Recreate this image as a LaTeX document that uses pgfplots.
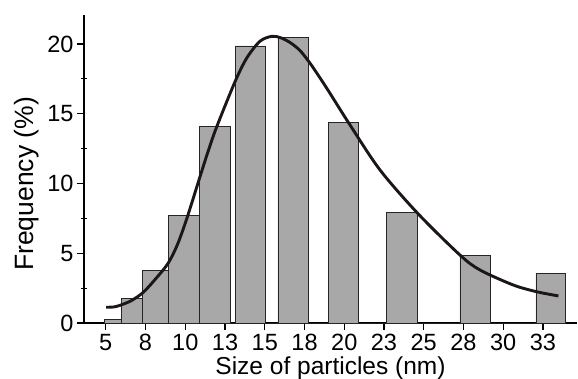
\documentclass[border=0pt]{standalone}
\usepackage{fontspec}
\setmainfont{Liberation Sans}
\usepackage{pgfplots}
\pgfplotsset{compat=1.18}
\definecolor{barfill}{RGB}{168,168,168}
\definecolor{baredge}{RGB}{40,36,36}
\definecolor{curvecol}{RGB}{28,22,22}
\begin{document}
\begin{tikzpicture}
\begin{axis}[
  at={(84bp,56bp)}, anchor=south west,
  scale only axis, width=493bp, height=308bp,
  xmin=3.63, xmax=34.64, ymin=0, ymax=22.08,
  axis lines=left,
  axis line style={-, line width=1.8bp, black},
  xtick={5,7.5,10,12.5,15,17.5,20,22.5,25,27.5,30,32.5},
  xticklabels={5,8,10,13,15,18,20,23,25,28,30,33},
  ytick={0,5,10,15,20},
  minor ytick={2.5,7.5,12.5,17.5},
  tick align=outside,
  major tick length=7bp,
  minor tick length=6bp,
  tick style={line width=1.2bp, black},
  minor y tick style={xshift=3bp},
  /pgf/number format/assume math mode=true,
  xticklabel style={font=\fontsize{23.5bp}{28bp}\selectfont, anchor=base, yshift=-20bp},
  yticklabel style={font=\fontsize{23.5bp}{28bp}\selectfont},
  xlabel={Size of particles (nm)},
  ylabel={Frequency (\%)},
  xlabel style={font=\fontsize{24.5bp}{29bp}\selectfont, at={(axis description cs:0.5,-0.1688)}, anchor=base},
  ylabel style={font=\fontsize{26.5bp}{31bp}\selectfont, at={(axis description cs:-0.1034,0.4516)}, anchor=base},
  clip=false,
]
\addplot[ybar interval, fill=barfill, draw=baredge, line width=0.9bp] table {
x y
4.91 0.27
5.96 1.77
7.33 3.75
8.93 7.74
10.91 14.07
12.84 0
13.13 19.86
15.06 0
15.83 20.45
17.74 0
19.00 14.36
20.89 0
22.67 7.91
24.61 0
27.28 4.87
29.19 0
32.06 3.58
33.94 0
};
\addplot[smooth, color=curvecol, line width=2.9bp] coordinates {
(5.02,1.13) (5.5,1.15) (5.9,1.27) (6.6,1.6) (7.36,2.2) (8.2,3.25)
(8.92,4.28) (9.5,5.6) (10.1,7.5) (10.93,10.5) (11.45,12.35) (11.98,14.07)
(13.13,17.3) (13.87,19.0) (14.70,20.2) (15.44,20.55) (16.0,20.45)
(16.6,20.1) (17.2,19.55) (17.8,18.7) (18.4,17.7) (19.0,16.65) (20.36,14.2)
(22.25,10.97) (24.62,7.86) (27.28,4.87) (28.54,3.8)
(30.64,2.72) (32.11,2.24) (33.47,1.94)
};
\end{axis}
\pgfresetboundingbox
\path (0,0) rectangle (578bp,379bp);
\end{tikzpicture}
\end{document}
